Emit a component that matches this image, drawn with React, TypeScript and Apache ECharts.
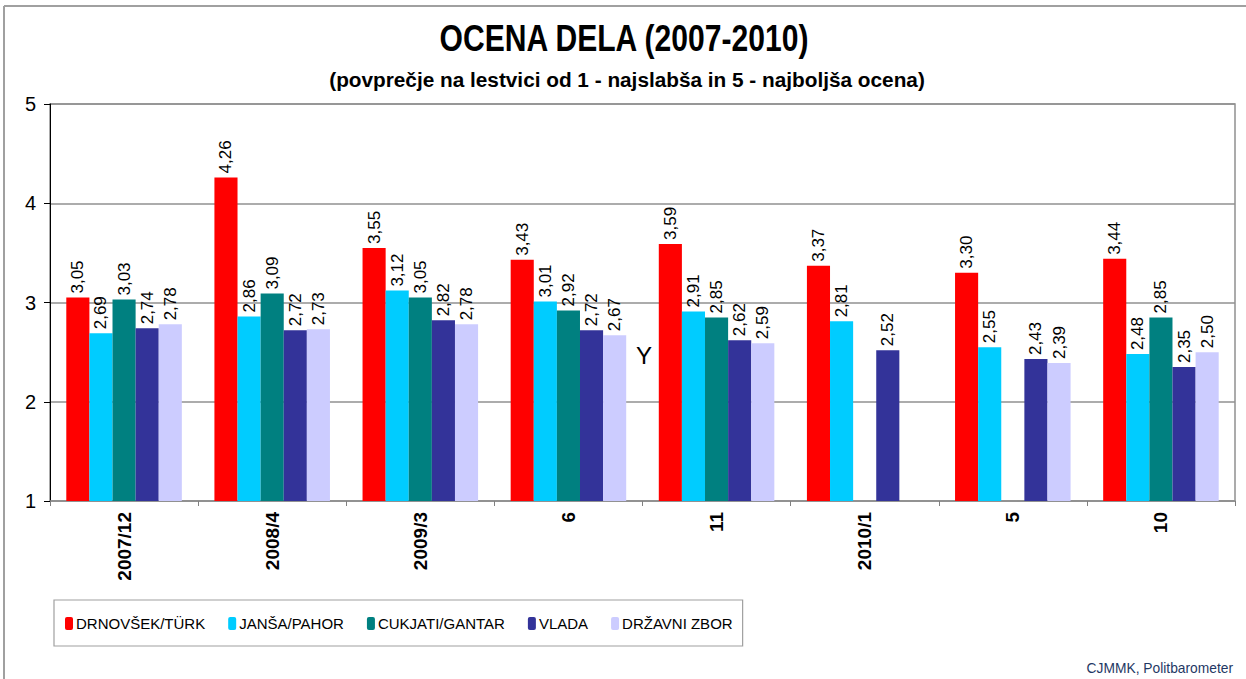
import React, { useEffect, useRef } from "react";
import * as echarts from "echarts";

const categories = ["2007/12", "2008/4", "2009/3", "6", "11", "2010/1", "5", "10"];
const seriesNames = ["DRNOVŠEK/TÜRK", "JANŠA/PAHOR", "CUKJATI/GANTAR", "VLADA", "DRŽAVNI ZBOR"];
const drnovsekTurk = [3.05, 4.26, 3.55, 3.43, 3.59, 3.37, 3.30, 3.44];
const jansaPahor = [2.69, 2.86, 3.12, 3.01, 2.91, 2.81, 2.55, 2.48];
const cukjatiGantar = [3.03, 3.09, 3.05, 2.92, 2.85, null, null, 2.85];
const vlada = [2.74, 2.72, 2.82, 2.72, 2.62, 2.52, 2.43, 2.35];
const drzavniZbor = [2.78, 2.73, 2.78, 2.67, 2.59, null, 2.39, 2.50];
const colors = ["#ff0000", "#00ccff", "#008080", "#333399", "#ccccff"];
const yTicks = { min: 1, max: 5, interval: 1 };
const titleText = "OCENA DELA (2007-2010)";
const subtitleText = "(povprečje na lestvici od 1 - najslabša in 5 - najboljša ocena)";
const sourceText = "CJMMK, Politbarometer";

export default function App() {
  const ref = useRef<HTMLDivElement>(null);
  useEffect(() => {
    if (!ref.current) return;
    const chart = echarts.init(ref.current, null, { renderer: "svg" });
    const data = [drnovsekTurk, jansaPahor, cukjatiGantar, vlada, drzavniZbor];
    const sans = "'Liberation Sans', Arial, sans-serif";
    chart.setOption({
      animation: false,
      backgroundColor: "#ffffff",
      color: colors,
      grid: { left: 50, right: 11, top: 104, bottom: 178, show: true, borderColor: "#909090", borderWidth: 1.5 },
      xAxis: {
        type: "category",
        data: categories,
        axisLine: { lineStyle: { color: "#909090", width: 1.5 } },
        axisTick: { show: true, length: 5, lineStyle: { color: "#808080" } },
        axisLabel: {
          rotate: 90,
          fontFamily: sans,
          fontWeight: "bold",
          fontSize: 19,
          color: "#000",
          margin: 11,
        },
      },
      yAxis: {
        type: "value",
        min: yTicks.min,
        max: yTicks.max,
        interval: yTicks.interval,
        axisLine: { show: true, lineStyle: { color: "#000", width: 1 } },
        axisTick: { show: true, length: 6, lineStyle: { color: "#000" } },
        axisLabel: { fontFamily: sans, fontSize: 20, color: "#000", margin: 14 },
        splitLine: { lineStyle: { color: "#909090", width: 1.5 } },
      },
      legend: {
        left: 54,
        top: 600,
        width: 700,
        padding: [16, 10, 15, 11],
        borderColor: "#a0a0a0",
        borderWidth: 1.2,
        itemWidth: 8,
        itemHeight: 13,
        itemGap: 23,
        icon: "roundRect",
        textStyle: { fontFamily: sans, fontSize: 15, color: "#000", padding: [0, 0, 0, -2] },
        data: seriesNames,
      },
      series: seriesNames.map((name, i) => ({
        name,
        type: "bar",
        data: data[i].map((v) => (v === null ? "-" : v)),
        barGap: "0%",
        barCategoryGap: "22%",
        itemStyle: { color: colors[i] },
        label: {
          show: true,
          position: "top",
          rotate: 90,
          align: "left",
          verticalAlign: "middle",
          distance: 4,
          fontFamily: sans,
          fontSize: 17,
          color: "#000",
          formatter: (p: any) => Number(p.value).toFixed(2).replace(".", ","),
        },
      })),
      graphic: [
        {
          type: "line",
          shape: { x1: 4, y1: 6, x2: 1246, y2: 6 },
          style: { stroke: "#a0a0a0", lineWidth: 2 },
          silent: true,
        },
        {
          type: "line",
          shape: { x1: 4, y1: 6, x2: 4, y2: 679 },
          style: { stroke: "#a0a0a0", lineWidth: 2 },
          silent: true,
        },
        {
          type: "text",
          x: 624,
          y: 20,
          scaleX: 0.885,
          scaleY: 1.06,
          style: {
            text: titleText,
            textAlign: "center",
            textVerticalAlign: "top",
            font: "bold 34px 'Liberation Sans', Arial, sans-serif",
            fill: "#000",
          },
        },
        {
          type: "text",
          x: 627,
          y: 69,
          scaleX: 0.99,
          style: {
            text: subtitleText,
            textAlign: "center",
            textVerticalAlign: "top",
            font: "bold 21px 'Liberation Sans', Arial, sans-serif",
            fill: "#000",
          },
        },
        {
          type: "text",
          x: 636,
          y: 343,
          style: { text: "Y", font: "24px 'Liberation Sans', Arial, sans-serif", fill: "#000" },
        },
        {
          type: "text",
          x: 1233,
          y: 660,
          scaleX: 0.92,
          style: {
            text: sourceText,
            textAlign: "right",
            textVerticalAlign: "top",
            font: "15px 'Liberation Sans', Arial, sans-serif",
            fill: "#1f3864",
          },
        },
      ],
    });
    return () => chart.dispose();
  }, []);
  return <div ref={ref} style={{ position: "fixed", left: 0, top: 0, width: 1246, height: 679 }} />;
}
